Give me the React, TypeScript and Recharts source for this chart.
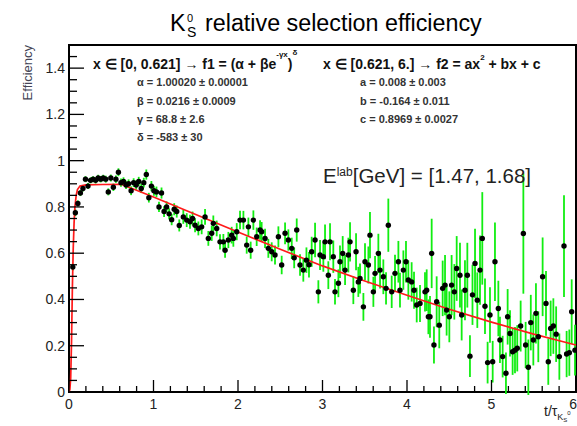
import React from 'react';
import { ComposedChart, Scatter, Line, XAxis, YAxis, ErrorBar, ReferenceArea } from 'recharts';

// ---- data: [t/tau, efficiency, error] ----
const regionA: [number, number, number][] = [
  [0.045, 0.54, 0.015], [0.075, 0.775, 0.015], [0.105, 0.815, 0.013], [0.135, 0.86, 0.013],
  [0.165, 0.88, 0.013], [0.195, 0.92, 0.013], [0.225, 0.89, 0.013], [0.255, 0.915, 0.013],
  [0.285, 0.92, 0.013], [0.315, 0.915, 0.014], [0.345, 0.925, 0.014], [0.375, 0.92, 0.014],
  [0.405, 0.925, 0.014], [0.435, 0.92, 0.015], [0.465, 0.865, 0.015], [0.495, 0.925, 0.015],
  [0.525, 0.885, 0.016], [0.555, 0.92, 0.016], [0.585, 0.95, 0.017],
];
const regionB: [number, number, number][] = [
  [0.615, 0.905, 0.018], [0.645, 0.91, 0.018], [0.675, 0.895, 0.018], [0.705, 0.9, 0.019],
  [0.735, 0.87, 0.019], [0.765, 0.905, 0.019], [0.795, 0.895, 0.02], [0.825, 0.91, 0.02],
  [0.855, 0.88, 0.02], [0.885, 0.905, 0.021], [0.915, 0.94, 0.022], [0.945, 0.84, 0.021],
  [0.975, 0.89, 0.022], [1.005, 0.87, 0.022], [1.035, 0.865, 0.023], [1.065, 0.8, 0.022],
  [1.095, 0.86, 0.024], [1.125, 0.78, 0.023], [1.155, 0.8, 0.024], [1.185, 0.77, 0.024],
  [1.215, 0.745, 0.024], [1.245, 0.79, 0.026], [1.275, 0.78, 0.026], [1.305, 0.72, 0.026],
];
const regionC: [number, number, number][] = [
  [1.353, 0.757, 0.03], [1.393, 0.743, 0.03], [1.432, 0.736, 0.03], [1.462, 0.75, 0.03],
  [1.492, 0.721, 0.03], [1.531, 0.707, 0.03], [1.57, 0.714, 0.032], [1.61, 0.757, 0.034],
  [1.649, 0.664, 0.032], [1.689, 0.686, 0.033], [1.708, 0.729, 0.034], [1.748, 0.707, 0.034],
  [1.787, 0.649, 0.033], [1.827, 0.649, 0.034], [1.847, 0.613, 0.033], [1.886, 0.657, 0.035],
  [1.925, 0.678, 0.036], [1.945, 0.664, 0.036], [1.985, 0.693, 0.037], [2.024, 0.743, 0.04],
  [2.064, 0.743, 0.04], [2.103, 0.635, 0.037], [2.123, 0.714, 0.04], [2.15, 0.613, 0.037],
  [2.182, 0.743, 0.042], [2.221, 0.671, 0.04], [2.261, 0.7, 0.042], [2.28, 0.693, 0.042],
  [2.32, 0.664, 0.042], [2.359, 0.621, 0.041], [2.399, 0.606, 0.041], [2.438, 0.592, 0.041],
  [2.478, 0.671, 0.045], [2.517, 0.549, 0.04], [2.557, 0.686, 0.047], [2.596, 0.657, 0.046],
  [2.636, 0.621, 0.046], [2.665, 0.58, 0.045], [2.695, 0.7, 0.05], [2.734, 0.549, 0.046],
];
const regionD: [number, number, number][] = [
  [2.773, 0.527, 0.05], [2.81, 0.57, 0.055], [2.84, 0.55, 0.055], [2.872, 0.606, 0.065],
  [2.912, 0.657, 0.075], [2.951, 0.433, 0.05], [2.971, 0.592, 0.065], [3.01, 0.585, 0.065],
  [3.03, 0.649, 0.075], [3.069, 0.505, 0.06], [3.089, 0.649, 0.08], [3.128, 0.585, 0.07],
  [3.148, 0.433, 0.055], [3.188, 0.47, 0.06], [3.207, 0.563, 0.07], [3.239, 0.599, 0.075],
  [3.267, 0.527, 0.065], [3.306, 0.592, 0.075], [3.326, 0.649, 0.085], [3.365, 0.44, 0.06],
  [3.397, 0.606, 0.08], [3.424, 0.476, 0.065], [3.444, 0.491, 0.065], [3.484, 0.368, 0.06],
  [3.503, 0.563, 0.08], [3.543, 0.549, 0.08], [3.562, 0.678, 0.1], [3.602, 0.433, 0.065],
  [3.622, 0.513, 0.075], [3.661, 0.599, 0.085], [3.681, 0.527, 0.08], [3.72, 0.498, 0.075],
  [3.752, 0.448, 0.07], [3.779, 0.721, 0.115], [3.819, 0.433, 0.07], [3.858, 0.513, 0.08],
  [3.898, 0.563, 0.09], [3.917, 0.44, 0.075], [3.957, 0.527, 0.085], [3.988, 0.563, 0.09],
  [4.016, 0.484, 0.085], [4.055, 0.476, 0.085], [4.083, 0.44, 0.08], [4.115, 0.376, 0.075],
  [4.154, 0.383, 0.08], [4.213, 0.433, 0.085], [4.233, 0.44, 0.09], [4.253, 0.325, 0.075],
];
const regionE: [number, number, number][] = [
  [4.272, 0.325, 0.09], [4.292, 0.599, 0.15], [4.319, 0.203, 0.08], [4.351, 0.39, 0.11],
  [4.382, 0.289, 0.1], [4.422, 0.448, 0.12], [4.45, 0.462, 0.13], [4.469, 0.354, 0.11],
  [4.501, 0.325, 0.11], [4.528, 0.462, 0.13], [4.56, 0.433, 0.12], [4.588, 0.534, 0.14],
  [4.627, 0.505, 0.14], [4.647, 0.333, 0.11], [4.686, 0.44, 0.13], [4.714, 0.505, 0.14],
  [4.745, 0.155, 0.09], [4.775, 0.42, 0.13], [4.805, 0.556, 0.15], [4.832, 0.397, 0.12],
  [4.864, 0.527, 0.15], [4.891, 0.664, 0.2], [4.923, 0.371, 0.12], [4.954, 0.127, 0.09],
  [4.982, 0.333, 0.12], [5.014, 0.131, 0.09], [5.041, 0.563, 0.17], [5.081, 0.361, 0.12],
  [5.1, 0.225, 0.1], [5.132, 0.153, 0.09], [5.171, 0.081, 0.09], [5.191, 0.325, 0.12],
  [5.219, 0.253, 0.1], [5.25, 0.174, 0.1], [5.278, 0.181, 0.1], [5.305, 0.189, 0.1],
  [5.345, 0.285, 0.11], [5.377, 0.685, 0.26], [5.404, 0.203, 0.1], [5.436, 0.107, 0.12],
  [5.465, 0.3, 0.12], [5.495, 0.225, 0.11], [5.526, 0.34, 0.13], [5.554, 0.239, 0.11],
  [5.605, 0.498, 0.17], [5.645, 0.383, 0.14], [5.672, 0.131, 0.1], [5.7, 0.275, 0.12],
  [5.732, 0.285, 0.12], [5.765, 0.25, 0.12], [5.803, 0.153, 0.1], [5.858, 0.631, 0.22],
  [5.889, 0.164, 0.1], [5.921, 0.17, 0.1], [5.949, 0.347, 0.14], [5.988, 0.181, 0.11],
];

// fit curve
const fitX = [0, 0.01, 0.02, 0.03, 0.04, 0.05, 0.06, 0.07, 0.085, 0.1, 0.13, 0.2, 0.4, 0.621, 1.0, 1.5, 2.0, 2.5, 3.0, 3.5, 4.0, 4.5, 5.0, 5.5, 6.0];
const fitY = [0, 0.01, 0.06, 0.22, 0.45, 0.62, 0.73, 0.8, 0.85, 0.875, 0.89, 0.895, 0.897, 0.898, 0.843, 0.767, 0.692, 0.617, 0.545, 0.48, 0.418, 0.358, 0.302, 0.25, 0.203];

const xTicks = [0, 0.2, 0.4, 0.6, 0.8, 1, 1.2, 1.4, 1.6, 1.8, 2, 2.2, 2.4, 2.6, 2.8, 3, 3.2, 3.4, 3.6, 3.8, 4, 4.2, 4.4, 4.6, 4.8, 5, 5.2, 5.4, 5.6, 5.8, 6];
const xMajor = [0, 1, 2, 3, 4, 5, 6];
const xLabels = ['0', '1', '2', '3', '4', '5', '6'];
const yTicks = [0, 0.05, 0.1, 0.15, 0.2, 0.25, 0.3, 0.35, 0.4, 0.45, 0.5, 0.55, 0.6, 0.65, 0.7, 0.75, 0.8, 0.85, 0.9, 0.95, 1, 1.05, 1.1, 1.15, 1.2, 1.25, 1.3, 1.35, 1.4, 1.45];
const yMajor = [0, 0.2, 0.4, 0.6, 0.8, 1, 1.2, 1.4];
const yLabels = ['0', '0.2', '0.4', '0.6', '0.8', '1', '1.2', '1.4'];

const scatterData = [...regionA, ...regionB, ...regionC, ...regionD, ...regionE].map(([x, y, err]) => ({ x, y, err }));
const fitData = fitX.map((x, i) => ({ x, f: fitY[i] }));

const FONT = '"Liberation Sans", Arial, Helvetica, sans-serif';

const XTick = (props: any) => {
  const { x, y, payload } = props;
  const idx = xMajor.indexOf(payload.value);
  const major = idx >= 0;
  const last = idx === xMajor.length - 1;
  return (
    <g>
      <line x1={x} x2={x} y1={y} y2={y - (major ? 12 : 6)} stroke="#000" strokeWidth={1.3} />
      {major && (
        <text x={last ? x + 1 : x} y={y + 17} textAnchor={last ? 'end' : 'middle'} fontSize={14} fill="#222" fontFamily={FONT}>
          {xLabels[idx]}
        </text>
      )}
    </g>
  );
};

const YTick = (props: any) => {
  const { x, y, payload } = props;
  const idx = yMajor.indexOf(payload.value);
  const major = idx >= 0;
  return (
    <g>
      <line x1={x} x2={x + (major ? 15 : 8)} y1={y} y2={y} stroke="#000" strokeWidth={1.3} />
      {major && (
        <text x={x - 4} y={y + 5} textAnchor="end" fontSize={14} fill="#222" fontFamily={FONT}>
          {yLabels[idx]}
        </text>
      )}
    </g>
  );
};

const Dot = (p: any) => <circle cx={p.cx} cy={p.cy} r={2.7} fill="#000" />;

export default function App() {
  return (
    <div style={{ position: 'fixed', left: 0, top: 0, width: 577, height: 426, background: '#fff' }}>
      <ComposedChart width={577} height={426} margin={{ top: 45, right: 1, bottom: 0, left: 0 }}>
        <XAxis
          type="number"
          dataKey="x"
          domain={[0, 6]}
          allowDataOverflow
          ticks={xTicks}
          interval={0}
          tick={(p: any) => <XTick {...p} />}
          tickLine={false}
          axisLine={false}
          tickSize={0}
          tickMargin={0}
          height={34}
        />
        <YAxis
          type="number"
          domain={[0, 1.5]}
          allowDataOverflow
          ticks={yTicks}
          interval={0}
          tick={(p: any) => <YTick {...p} />}
          tickLine={false}
          axisLine={false}
          tickSize={0}
          tickMargin={0}
          width={69}
        />
        <ReferenceArea x1={0} x2={6} y1={0} y2={1.5} fill="none" fillOpacity={0} stroke="#000" strokeWidth={2} />
        <Scatter data={scatterData} dataKey="y" isAnimationActive={false} shape={(p: any) => <Dot {...p} />}>
          <ErrorBar dataKey="err" direction="y" width={0} stroke="#11ee11" strokeWidth={1.8} isAnimationActive={false} />
        </Scatter>
        <Line data={fitData} dataKey="f" type="linear" stroke="#ff1a1a" strokeWidth={1.7} dot={false} activeDot={false} isAnimationActive={false} />
      </ComposedChart>
      <svg width={577} height={426} style={{ position: 'absolute', left: 0, top: 0, pointerEvents: 'none' }} fontFamily={FONT}>
        {/* title */}
        <text x={170} y={31} fontSize={23.3} fill="#000">K</text>
        <text x={187} y={21.5} fontSize={11} fill="#000">0</text>
        <text x={187} y={36.5} fontSize={14} fill="#000">S</text>
        <text x={205} y={31} fontSize={23.3} fill="#000">relative selection efficiency</text>
        {/* axis titles */}
        <text x={32} y={45} fontSize={13} fill="#445" textAnchor="end" transform="rotate(-90 32 45)">Efficiency</text>
        <text x={544} y={416} fontSize={14} fill="#222">
          t/τ<tspan dy={4} fontSize={9}>K</tspan><tspan dy={2} fontSize={6}>S</tspan><tspan dy={-7} fontSize={6}>0</tspan>
        </text>
        {/* fit f1 */}
        <text x={93} y={69} fontSize={14} fontWeight="bold" fill="#111">
          x ∈ [0, 0.621] → f1 = (α + βe<tspan dy={-12} fontSize={8}>-γx</tspan>
          <tspan dy={12} fontSize={14}>)</tspan>
          <tspan dy={-14} fontSize={8}>δ</tspan>
        </text>
        <text x={137} y={86} fontSize={11} fontWeight="bold" fill="#333">α = 1.00020 ± 0.00001</text>
        <text x={137} y={105} fontSize={11} fontWeight="bold" fill="#333">β = 0.0216 ± 0.0009</text>
        <text x={137} y={123} fontSize={11} fontWeight="bold" fill="#333">γ = 68.8 ± 2.6</text>
        <text x={137} y={141} fontSize={11} fontWeight="bold" fill="#333">δ = -583 ± 30</text>
        {/* fit f2 */}
        <text x={323} y={69} fontSize={14} fontWeight="bold" fill="#111">
          x ∈ [0.621, 6.] → f2 = ax<tspan dy={-9} fontSize={8}>2</tspan>
          <tspan dy={9} fontSize={14}> + bx + c</tspan>
        </text>
        <text x={360} y={86} fontSize={11} fontWeight="bold" fill="#333">a = 0.008 ± 0.003</text>
        <text x={360} y={104.5} fontSize={11} fontWeight="bold" fill="#333">b = -0.164 ± 0.011</text>
        <text x={360} y={123} fontSize={11} fontWeight="bold" fill="#333">c = 0.8969 ± 0.0027</text>
        {/* energy label */}
        <text x={323} y={183} fontSize={20.5} fill="#222">
          E<tspan dy={-7} fontSize={12}>lab</tspan>
          <tspan dy={7} fontSize={20.5}>[GeV] = [1.47, 1.68]</tspan>
        </text>
      </svg>
    </div>
  );
}
